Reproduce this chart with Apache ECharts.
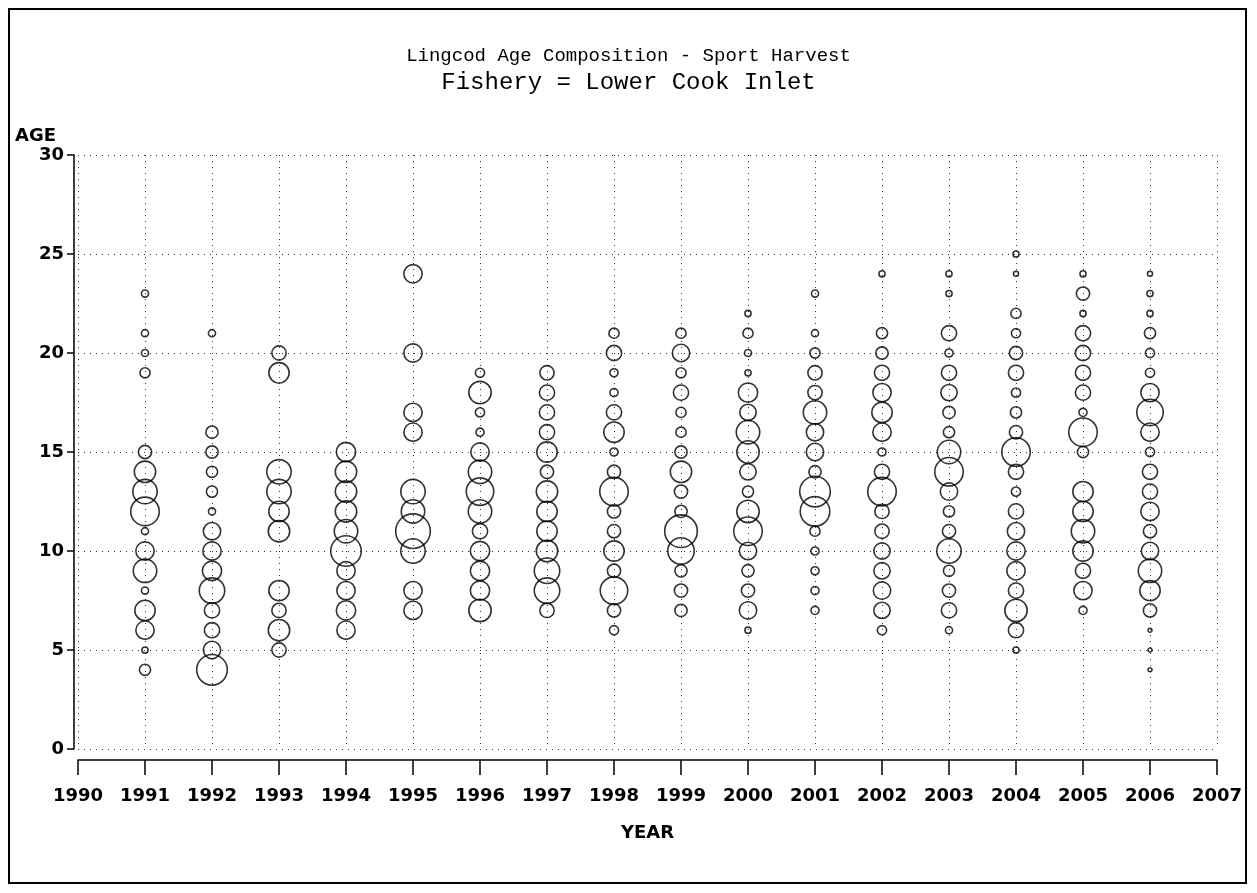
<!DOCTYPE html>
<html>
<head>
<meta charset="utf-8">
<script src="https://cdn.jsdelivr.net/npm/echarts@6/dist/echarts.min.js"></script>
<style>
  html, body { margin: 0; padding: 0; background: #fff; }
  #chart { width: 1257px; height: 893px; }
  #frame { position: absolute; left: 8px; top: 8px; width: 1239px; height: 876px; border: 2px solid #000; pointer-events: none; box-sizing: border-box; }
</style>
</head>
<body>
<div id="chart"></div>
<div id="frame"></div>
<script>
// ---- data ----
const titleText = 'Lingcod Age Composition - Sport Harvest';
const subtitleText = 'Fishery = Lower Cook Inlet';
const xName = 'YEAR';
const yName = 'AGE';
const years = [1991, 1992, 1993, 1994, 1995, 1996, 1997, 1998, 1999, 2000, 2001, 2002, 2003, 2004, 2005, 2006];
const xTickLabels = ['1990','1991','1992','1993','1994','1995','1996','1997','1998','1999','2000','2001','2002','2003','2004','2005','2006','2007'];
const yTickLabels = ['0','5','10','15','20','25','30'];

// ages observed each year
const agesByYear = [
  [23,21,20,19,15,14,13,12,11,10,9,8,7,6,5,4],
  [21,16,15,14,13,12,11,10,9,8,7,6,5,4],
  [20,19,14,13,12,11,8,7,6,5],
  [15,14,13,12,11,10,9,8,7,6],
  [24,20,17,16,13,12,11,10,8,7],
  [19,18,17,16,15,14,13,12,11,10,9,8,7],
  [19,18,17,16,15,14,13,12,11,10,9,8,7],
  [21,20,19,18,17,16,15,14,13,12,11,10,9,8,7,6],
  [21,20,19,18,17,16,15,14,13,12,11,10,9,8,7],
  [22,21,20,19,18,17,16,15,14,13,12,11,10,9,8,7,6],
  [23,21,20,19,18,17,16,15,14,13,12,11,10,9,8,7],
  [24,21,20,19,18,17,16,15,14,13,12,11,10,9,8,7,6],
  [24,23,21,20,19,18,17,16,15,14,13,12,11,10,9,8,7,6],
  [25,24,22,21,20,19,18,17,16,15,14,13,12,11,10,9,8,7,6,5],
  [24,23,22,21,20,19,18,17,16,15,13,12,11,10,9,8,7],
  [24,23,22,21,20,19,18,17,16,15,14,13,12,11,10,9,8,7,6,5,4]
];
// relative share of the harvest at each age (bubble area)
const shareByYear = [
  [1.6,1.6,1.6,3.3,5.6,14.6,19.0,25.9,1.6,10.7,17.5,1.6,13.2,10.7,1.2,4.0],
  [1.6,4.8,4.8,4.0,4.0,1.6,9.6,10.7,11.9,20.7,7.4,7.4,9.6,29.8],
  [6.5,13.2,19.0,19.0,13.2,14.6,13.2,6.5,14.6,6.5],
  [11.9,14.6,14.6,14.6,17.5,29.8,10.7,10.7,11.9,10.7],
  [10.7,10.7,10.7,10.7,19.0,17.5,38.2,19.0,10.7,10.7],
  [2.7,16.0,2.7,2.1,10.7,17.5,24.1,17.5,7.4,11.9,11.9,11.9,16.0],
  [6.5,7.4,7.4,7.4,13.2,5.6,14.6,13.2,13.2,14.6,20.7,20.7,6.5],
  [3.3,7.4,2.1,2.1,7.4,13.2,2.1,5.6,25.9,5.6,5.6,13.2,5.6,24.1,5.6,2.7],
  [3.3,9.6,3.3,7.4,3.3,3.3,4.8,14.6,5.6,4.8,33.9,22.3,4.8,5.6,4.8],
  [1.2,3.3,1.6,1.2,11.9,8.5,17.5,16.0,8.5,4.0,16.0,25.9,9.6,4.8,5.6,9.6,1.2],
  [1.6,1.6,3.3,6.5,6.5,17.5,9.6,9.6,4.8,29.8,27.8,3.3,2.1,2.1,2.1,2.1],
  [1.2,4.0,4.8,7.4,10.7,13.2,10.7,2.1,7.4,25.9,6.5,6.5,8.5,8.5,9.6,8.5,2.7],
  [1.2,1.2,7.4,2.1,7.4,8.5,4.8,4.0,17.5,25.9,9.6,4.0,5.6,19.0,4.0,5.6,7.4,1.6],
  [1.2,0.8,3.3,2.7,5.6,7.4,2.7,4.0,5.6,25.9,7.4,2.7,7.4,9.6,10.7,10.7,7.4,16.0,7.4,1.2],
  [1.2,5.6,1.2,7.4,7.4,7.4,7.4,2.1,25.9,4.0,13.2,13.2,17.5,13.2,7.4,10.7,2.1],
  [0.8,1.2,1.2,4.0,2.7,2.7,10.7,22.3,10.7,2.7,7.4,7.4,10.7,5.6,9.6,17.5,13.2,5.6,0.5,0.5,0.5]
];

// ---- build ----
const points = [];
years.forEach((yr, i) => {
  agesByYear[i].forEach((age, j) => points.push([yr, age, shareByYear[i][j]]));
});

const axisFont = { fontFamily: 'DejaVu Sans', fontWeight: 'bold', fontSize: 18, color: '#000' };
const gridDots = { show: true, lineStyle: { color: '#333', width: 1, type: [1, 5] } };

const chart = echarts.init(document.getElementById('chart'), null, { renderer: 'canvas' });
chart.setOption({
  backgroundColor: '#fff',
  animation: false,
  title: [
    { text: titleText, left: 'center', top: 41,
      textStyle: { fontFamily: 'Liberation Mono', fontWeight: 'normal', fontSize: 19, color: '#000' } },
    { text: subtitleText, left: 'center', top: 66,
      textStyle: { fontFamily: 'Liberation Mono', fontWeight: 'normal', fontSize: 24, color: '#000' } }
  ],
  grid: { left: 78, right: 40, top: 155, bottom: 144 },
  xAxis: {
    type: 'value', min: 1990, max: 2007, interval: 1,
    offset: 11,
    name: xName, nameLocation: 'middle', nameGap: 64,
    nameTextStyle: axisFont,
    axisLine: { show: true, onZero: false, lineStyle: { color: '#000', width: 1.5 } },
    axisTick: { show: true, length: 15, lineStyle: { color: '#000', width: 1.5 } },
    axisLabel: Object.assign({ margin: 27, formatter: v => xTickLabels[Math.round(v - 1990)] }, axisFont),
    splitLine: gridDots
  },
  yAxis: {
    type: 'value', min: 0, max: 30, interval: 5,
    offset: 4,
    name: yName, nameLocation: 'end', nameGap: 10,
    nameTextStyle: Object.assign({ align: 'right', padding: [0, 18, 0, 0] }, axisFont),
    axisLine: { show: true, onZero: false, lineStyle: { color: '#000', width: 1.5 } },
    axisTick: { show: true, length: 7, lineStyle: { color: '#000', width: 1.5 } },
    axisLabel: Object.assign({ margin: 10, formatter: v => yTickLabels[Math.round(v / 5)] }, axisFont),
    splitLine: gridDots
  },
  series: [{
    type: 'scatter',
    data: points,
    symbol: 'circle',
    symbolSize: v => 5.6 * Math.sqrt(v[2]),
    itemStyle: { color: 'rgba(0,0,0,0)', borderColor: '#000', borderWidth: 1.6 },
    emphasis: { disabled: true }
  }]
});
</script>
</body>
</html>
